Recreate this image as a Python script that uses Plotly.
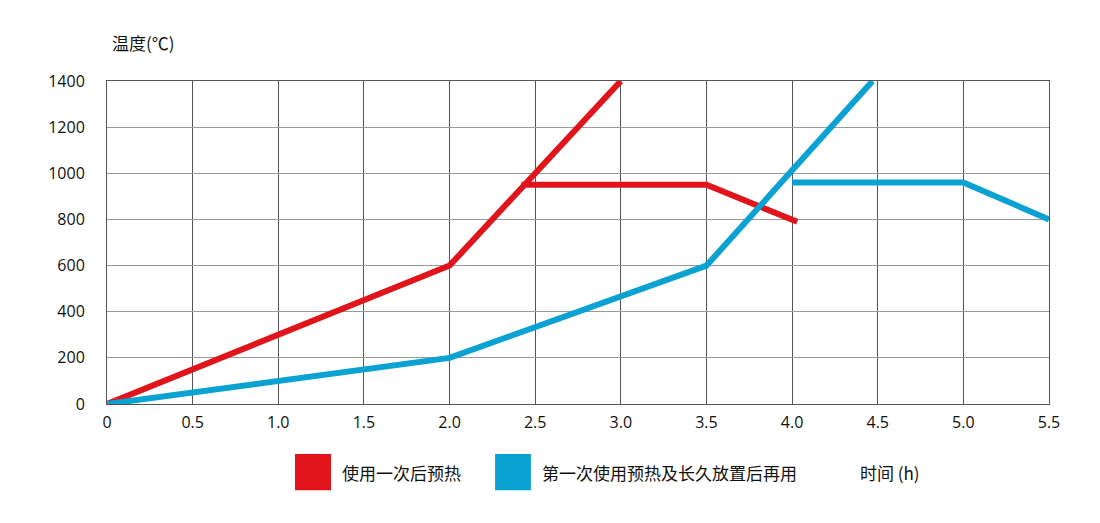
import plotly.graph_objects as go

# time (h) and temperature (°C)
red_x1 = [0, 2.0, 3.0]
red_y1 = [0, 600, 1400]
red_x2 = [2.42, 3.5, 4.03]
red_y2 = [950, 950, 790]
blue_x1 = [0, 2.0, 3.5, 4.47]
blue_y1 = [0, 200, 600, 1400]
blue_x2 = [4.0, 5.0, 5.5]
blue_y2 = [960, 960, 800]
x_ticks = [0, 0.5, 1.0, 1.5, 2.0, 2.5, 3.0, 3.5, 4.0, 4.5, 5.0, 5.5]
x_labels = ["0", "0.5", "1.0", "1.5", "2.0", "2.5", "3.0", "3.5", "4.0", "4.5", "5.0", "5.5"]

RED = "#e0141a"
BLUE = "#0aa2d3"

fig = go.Figure()
for xs, ys, c in [(red_x1, red_y1, RED), (red_x2, red_y2, RED),
                  (blue_x1, blue_y1, BLUE), (blue_x2, blue_y2, BLUE)]:
    fig.add_trace(go.Scatter(x=xs, y=ys, mode="lines", line=dict(color=c, width=6),
                             showlegend=False, hoverinfo="skip"))

cjk = "Noto Sans CJK SC"
fig.update_layout(
    width=1100, height=523, plot_bgcolor="white", paper_bgcolor="white",
    margin=dict(l=99, r=59, t=73, b=127),
    font=dict(family="Open Sans", size=16, color="#111"),
    xaxis=dict(range=[0, 5.5], tickvals=x_ticks, ticktext=x_labels, showgrid=True,
               gridcolor="#555", gridwidth=1, zeroline=False, showline=True,
               linecolor="#555", mirror=True, ticks="", ticklabelstandoff=4),
    yaxis=dict(range=[0, 1400], dtick=200, showgrid=True, gridcolor="#999", gridwidth=1,
               zeroline=False, showline=True, linecolor="#555", mirror=True, ticks="",
               ticklabelstandoff=18),
    shapes=[
        dict(type="rect", xref="paper", yref="paper", x0=0.1996, x1=0.2378, y0=-0.267, y1=-0.155,
             fillcolor=RED, line=dict(width=0)),
        dict(type="rect", xref="paper", yref="paper", x0=0.412, x1=0.450, y0=-0.267, y1=-0.155,
             fillcolor=BLUE, line=dict(width=0)),
    ],
    annotations=[
        dict(text="温度(℃)", xref="paper", yref="paper", x=0.003, y=1.12, xanchor="left",
             yanchor="middle", showarrow=False, font=dict(family=cjk, size=17)),
        dict(text="使用一次后预热", xref="paper", yref="paper", x=0.247, y=-0.211, xanchor="left",
             yanchor="middle", showarrow=False, font=dict(family=cjk, size=17)),
        dict(text="第一次使用预热及长久放置后再用", xref="paper", yref="paper", x=0.4597, y=-0.211,
             xanchor="left", yanchor="middle", showarrow=False, font=dict(family=cjk, size=17)),
        dict(text="时间 (h)", xref="paper", yref="paper", x=0.797, y=-0.211, xanchor="left",
             yanchor="middle", showarrow=False, font=dict(family=cjk, size=17)),
    ],
)
fig.write_html("out.html")
